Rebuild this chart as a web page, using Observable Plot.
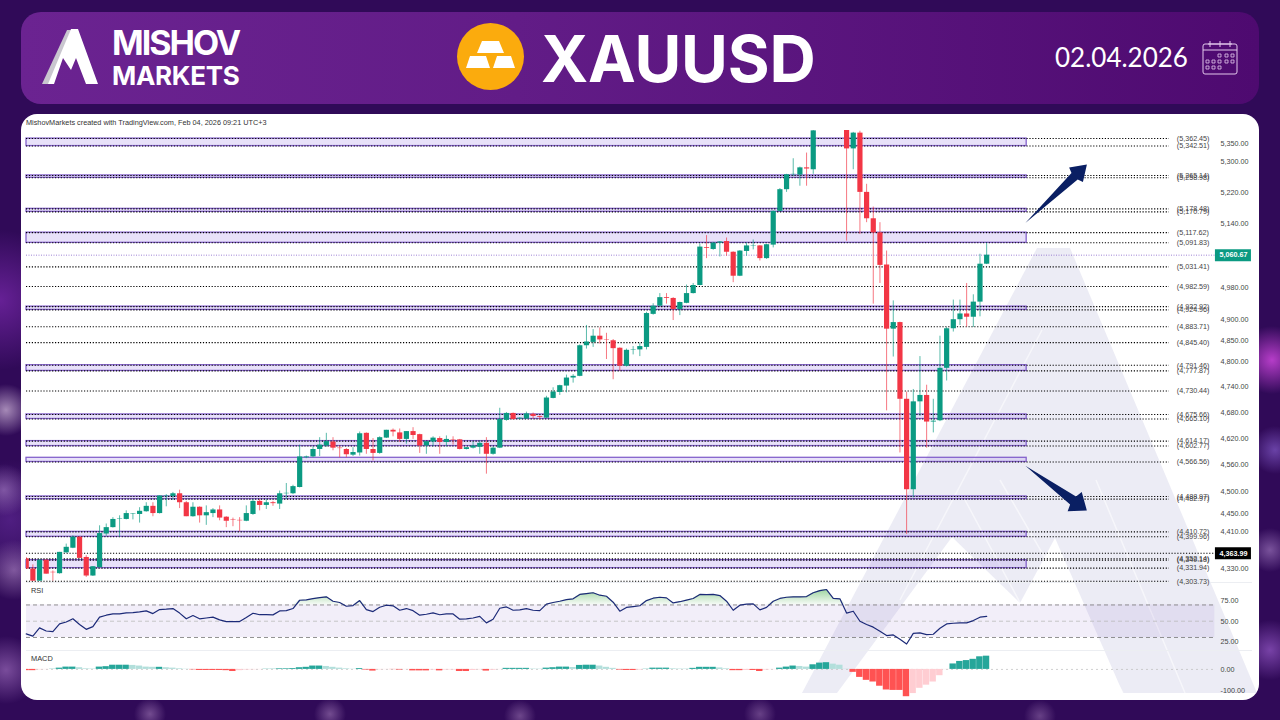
<!DOCTYPE html>
<html lang="en">
<head>
<meta charset="utf-8">
<title>XAUUSD</title>
<script src="https://cdn.jsdelivr.net/npm/d3@7"></script>
<script src="https://cdn.jsdelivr.net/npm/@observablehq/plot@0.6"></script>
<style>
html,body{margin:0;padding:0;width:1280px;height:720px;overflow:hidden}
body{position:relative;background-color:#300a58;
background-image:
radial-gradient(circle 26px at 6px 410px,rgba(205,180,215,.75),transparent),
radial-gradient(circle 26px at 4px 490px,rgba(170,130,200,.6),transparent),
radial-gradient(circle 30px at 14px 570px,rgba(190,150,210,.55),transparent),
radial-gradient(circle 34px at 6px 670px,rgba(170,120,200,.6),transparent),
radial-gradient(circle 70px at 0px 300px,rgba(120,40,170,.75),transparent),
radial-gradient(circle 60px at 10px 520px,rgba(110,50,170,.5),transparent),
radial-gradient(circle 34px at 1272px 360px,rgba(205,70,220,.85),transparent),
radial-gradient(circle 24px at 1275px 450px,rgba(130,90,200,.7),transparent),
radial-gradient(circle 22px at 1270px 550px,rgba(170,130,200,.6),transparent),
radial-gradient(circle 30px at 1270px 650px,rgba(150,90,200,.7),transparent),
radial-gradient(circle 16px at 150px 714px,rgba(170,130,190,.55),transparent),
radial-gradient(circle 16px at 330px 714px,rgba(170,130,190,.55),transparent),
radial-gradient(circle 16px at 520px 716px,rgba(170,130,190,.5),transparent),
radial-gradient(circle 16px at 760px 714px,rgba(170,130,190,.45),transparent),
radial-gradient(circle 16px at 1040px 716px,rgba(170,130,190,.45),transparent)}
.abs{position:absolute}
#head{left:21px;top:12px;width:1238px;height:92px;border-radius:20px;background:linear-gradient(90deg,#6b2391 0%,#621c87 40%,#4e0a70 100%)}
#card{left:21px;top:114px;width:1238px;height:586px;border-radius:16px;background:#fff}
.w{color:#fff;white-space:nowrap;line-height:1}
.pane{font:7.4px "Liberation Sans",sans-serif;color:#333;white-space:nowrap;line-height:1}
.sep{height:1px;background:#eceef2;left:26px;width:1226px}
</style>
</head>
<body>
<div id="head" class="abs"></div>
<svg class="abs" style="left:38px;top:24px" width="66" height="64" viewBox="38 24 66 64">
  <polygon points="42,84 67,30 71,30 50,84" fill="#c9c6cf"/>
  <polygon points="48,84 71,29 78,29 98,84 86,84 76,58 71,70 63,58 54,84" fill="#fff"/>
</svg>
<div class="abs w" style="left:112px;top:22px;font:700 34px Inter,sans-serif;letter-spacing:-2px">MISHOV</div>
<div class="abs w" style="left:112px;top:60px;font:700 26px Inter,sans-serif;letter-spacing:-.3px">MARKETS</div>
<svg class="abs" style="left:455px;top:21px" width="72" height="72" viewBox="455 21 72 72">
  <circle cx="490.5" cy="56.5" r="33.5" fill="#fbab0d"/>
  <polygon points="482,41 499,41 504,53 477,53" fill="#fff"/>
  <polygon points="470,56 486,56 490,68 466,68" fill="#fff"/>
  <polygon points="497,56 511,56 515,68 493,68" fill="#fff"/>
</svg>
<div class="abs w" style="left:541px;top:20px;font:700 64px Inter,sans-serif;letter-spacing:-.2px">XAUUSD</div>
<div class="abs w" style="left:1055px;top:41px;font:400 26px Lato,sans-serif">02.04.2026</div>
<svg class="abs" style="left:1200px;top:38px" width="40" height="40" viewBox="1200 38 40 40" fill="none" stroke="#e3c8ec" stroke-width="1">
  <rect x="1203" y="44" width="34" height="30" rx="2"/>
  <path d="M1203 50H1237M1208 44H1232"/>
  <path d="M1210 41V47M1220 41V47M1230 41V47"/>
  <path d="M1218 54h3v3h-3zM1225 54h3v3h-3zM1231 54h3v3h-3zM1206 60h3v3h-3zM1212 60h3v3h-3zM1218 60h3v3h-3zM1225 60h3v3h-3zM1231 60h3v3h-3zM1206 66h3v3h-3zM1212 66h3v3h-3zM1218 66h3v3h-3z" stroke-width=".8"/>
</svg>
<div id="card" class="abs"></div>
<svg class="abs" style="left:0;top:0" width="1280" height="720" viewBox="0 0 1280 720">
  <polygon points="802,693 1037,248 1070,248 1257,693 1123,693 1055,538 1020,603 952,537 837,693" fill="rgb(105,105,175)" fill-opacity=".125"/>
  <path d="M1000,480 L1123,693 M1042,330 L900,600 M965,500 L1040,640 M1096,480 L1185,693" stroke="#fff" stroke-opacity=".55" stroke-width="1.5" fill="none"/>
</svg>
<div class="abs pane" style="left:26px;top:119px;font-size:7.3px">MishovMarkets created with TradingView.com, Feb 04, 2026 09:21 UTC+3</div>
<div class="abs sep" style="top:582px"></div>
<div class="abs sep" style="top:650px"></div>
<div class="abs pane" style="left:31px;top:587px">RSI</div>
<div class="abs pane" style="left:31px;top:655px">MACD</div>
<script>
const opens=[4352,4330,4304,4349,4323,4320,4365,4375,4399,4355,
4315,4333,4406,4420,4438,4438,4450,4449,4455,4467,
4451,4489,4489,4495,4475,4444,4465,4446,4451,4459,
4443,4437,4436,4434,4449,4478,4469,4475,4472,4495,
4495,4509,4576,4578,4595,4603,4612,4598,4595,4582,
4587,4632,4595,4586,4621,4639,4633,4618,4636,4629,
4603,4612,4620,4611,4617,4617,4595,4598,4600,4609,
4584,4598,4662,4678,4665,4665,4676,4671,4667,4713,
4727,4742,4761,4765,4838,4846,4861,4852,4850,4832,
4789,4827,4828,4834,4914,4934,4955,4953,4926,4941,
4965,4985,5080,5075,5091,5095,5068,5008,5070,5084,
5084,5052,5086,5172,5228,5267,5266,5285,5280,5390,
5470,5540,5500,5420,5335,5377,5221,5153,5117,5036,
4878,4894,4711,4504,4705,4720,4658,4661,4784,4879,
4901,4915,4907,4944,5038];
const highs=[4355,4339,4350,4350,4326,4366,4384,4402,4400,4359,
4335,4424,4428,4442,4446,4457,4451,4464,4475,4475,
4490,4493,4498,4503,4478,4475,4466,4468,4462,4468,
4444,4441,4442,4468,4482,4482,4482,4478,4501,4518,
4514,4605,4580,4601,4622,4632,4622,4603,4597,4599,
4635,4633,4620,4624,4639,4642,4642,4636,4645,4630,
4607,4624,4624,4626,4624,4618,4599,4612,4614,4622,
4601,4690,4680,4679,4668,4681,4679,4672,4718,4738,
4744,4768,4769,4840,4887,4877,4881,4868,4853,4833,
4830,4836,4844,4919,4940,4965,4965,4955,4944,4986,
4990,5089,5110,5093,5095,5104,5069,5072,5091,5099,
5085,5088,5173,5231,5268,5309,5287,5324,5390,5480,
5560,5600,5520,5430,5379,5382,5242,5183,5143,5071,
4947,4895,4728,4734,4812,4744,4711,4861,4882,4949,
4949,4990,4962,5063,5091];
const lows=[4330,4304,4304,4319,4304,4319,4364,4374,4353,4312,
4314,4332,4401,4419,4399,4437,4437,4430,4454,4444,
4450,4466,4480,4462,4444,4443,4430,4425,4442,4435,
4420,4422,4411,4433,4447,4457,4460,4467,4460,4482,
4493,4508,4574,4576,4579,4600,4592,4576,4576,4579,
4580,4584,4569,4584,4620,4624,4611,4607,4618,4586,
4584,4601,4584,4601,4605,4594,4594,4596,4584,4539,
4582,4597,4660,4662,4664,4664,4665,4663,4666,4712,
4720,4726,4749,4764,4830,4834,4842,4805,4757,4777,
4787,4816,4812,4828,4912,4933,4939,4899,4911,4940,
4964,4984,5052,5073,5056,5058,4992,5007,5058,5074,
5046,5050,5079,5170,5221,5262,5237,5237,5268,5385,
5440,5480,5390,5096,5280,5113,5143,4939,4990,4684,
4811,4587,4405,4486,4671,4598,4633,4659,4754,4871,
4887,4883,4882,4908,5037];
const closes=[4330,4304,4349,4319,4322,4366,4377,4399,4353,4315,
4335,4407,4420,4438,4439,4451,4451,4456,4467,4451,
4490,4490,4495,4475,4444,4465,4446,4453,4459,4441,
4434,4436,4435,4451,4478,4469,4475,4473,4495,4496,
4511,4578,4578,4595,4605,4613,4598,4597,4583,4588,
4631,4595,4586,4622,4639,4635,4618,4636,4627,4603,
4613,4621,4611,4618,4616,4595,4599,4603,4609,4584,
4598,4664,4678,4664,4667,4677,4671,4669,4714,4728,
4743,4761,4765,4838,4847,4861,4852,4851,4831,4789,
4827,4828,4836,4916,4934,4955,4953,4926,4943,4965,
4985,5081,5078,5091,5094,5068,5008,5071,5084,5085,
5052,5087,5172,5228,5267,5268,5285,5282,5383,5470,
5540,5500,5420,5335,5377,5221,5153,5117,5035,4878,
4894,4711,4504,4705,4720,4658,4660,4784,4879,4901,
4915,4907,4944,5038,5060.67];
const rsiValues=[34.4,31.6,41.8,38,37.3,46.7,49,53,46,40,
43.4,55,57.4,59,59,60.2,60.5,61.5,62.7,59.4,
64.3,64.8,65.6,60,53,57,53,54,55,51.6,
49.6,49.6,49.6,54.5,59.8,58,58,57.8,62.7,63,
65.6,75.8,76.2,77.9,79,80,74.6,73,68.4,69.3,
75.4,64.3,61.9,67.2,69.7,68.9,63.5,65.6,63,57.4,
58.6,60.2,58,59,59,52.5,52.9,54,56,48,
52.5,66,67.6,63.5,64,65.6,63.5,63,71,73,
74.6,76.6,77.5,83,84,85,82,80.7,73.4,62.3,
67,68,69,75.4,78.3,79.5,78.7,72.5,74,76,
78,83,82.8,83,81.6,74.6,63.5,69.7,71,71.3,
64,67,74.6,78,79.5,80,80,80.3,85,87.7,
89,78,77.5,60,62.3,50,46,42.7,37.7,32.4,
33.2,27.9,22,35,35.7,33.6,34,41.4,46.7,47.5,
48,48,50.8,55,56];
const macdValues=[-6,-6,-2,-1,1,6,11,11,8,3,
2,11,13,20,20,20,19,16,11,10,
10,8,6,3,1,-2,-5,-5,-5,-5,
-6,-10,-6,-3,-2,-1,1,1,3,3,
4,8,10,16,16,14,10,6,3,1,
4,-3,-8,-2,-1,-1,-3,-1,-7,-7,
-7,-3,-7,-3,-2.8,-10,-10,-5,-2,-8,
-4,-1,5,5,5,5,2,1.5,6,8,
11,11,9,19,20,20,16,10,5,-3,
-5,-5,-3,1,6,6,6,3,2,1.8,
5,10,10,10,7,3,-6,-6,-5,-5,
-10,-3,-1,6,11,16,14,11,22,30,
32,25,20,1,-14,-38,-52,-60,-80,-98,
-100,-100,-130,-115,-90,-75,-60,-30,-1,26,
38,42,48,60,63];
const levelValues=[5362.45,5342.51,5265.14,5258.98,5178.48,5170.79,5117.62,5091.83,5031.41,4982.59,4932.92,4924.96,4883.71,4845.40,4791.46,4777.87,4730.44,4675.66,4665.10,4614.17,4602.77,4566.56,4488.97,4482.97,4410.72,4399.96,4352.14,4349.18,4331.94,4303.73];
const bandTops=[5362.45,5265.14,5178.48,5117.62,4932.92,4791.46,4675.66,4614.17,4576,4488.97,4410.72,4349.18];
const bandBottoms=[5342.51,5258.98,5170.79,5091.83,4924.96,4777.87,4665.10,4602.77,4566.56,4482.97,4399.96,4331.94];
const priceTicks=[5350,5300,5220,5140,4980,4900,4850,4800,4740,4680,4620,4560,4500,4450,4410,4370,4330];
const lastPrice=5060.67, prevPrice=4363.99;
const rsiTicks=[75,50,25], rsiGuides=[70,50,30];
const macdTicks=[0,-100];

const GREEN="#0b9a82",RED="#f23645",PURPLE="#8562cc";
const xDomain=[0.045,179.06];
const LEFT=26,RIGHT=60,W=1280;
const RIGHT_BAND=150,RIGHT_DOT=171.4,RIGHT_LABEL=172.5,RIGHT_GUIDE=178.2,BOX_A=178.3,BOX_B=183.7,BOX_T=181;
const fmt=d3.format(",.2f");
const font={fontFamily:"'Liberation Sans',sans-serif",fontSize:"7.2px",background:"transparent",color:"#444",position:"absolute",left:"0px",overflow:"visible",maxWidth:"none"};
const candles=opens.map((o,i)=>({i,o,h:highs[i],l:lows[i],c:closes[i],up:closes[i]>=o}));
const bands=bandTops.map((t,i)=>({t,b:bandBottoms[i]}));
const rows=rsiValues.map((v,i)=>({i,v}));
const hist=macdValues.map((v,i)=>{const p=i?macdValues[i-1]:v;
  const strong=v>=0?v>=p:v<=p;
  return {i,v,fill:v>=0?(strong?"#26a69a":"#b2dfdb"):(strong?"#ff5252":"#ffcdd2")};});
const arrow=(hw,sw,hl)=>({draw(ctx,l){ctx.moveTo(0,0);ctx.lineTo(sw,-(l-hl));ctx.lineTo(hw,-(l-hl)-2);ctx.lineTo(0,-l);ctx.lineTo(-hw,-(l-hl)-2);ctx.lineTo(-sw,-(l-hl));ctx.closePath();}});

const price=Plot.plot({width:W,height:453,marginTop:0,marginBottom:0,marginLeft:LEFT,marginRight:RIGHT,style:{...font,top:"130px"},
  x:{domain:xDomain,axis:null},
  y:{type:"log",domain:[4299,5384],axis:null},
  marks:[
    Plot.rect(bands,{x1:()=>xDomain[0],x2:()=>RIGHT_BAND,y1:"t",y2:"b",fill:"#b9a5ee",fillOpacity:.33,stroke:PURPLE,strokeWidth:1.3}),
    Plot.ruleY(levelValues,{x1:()=>xDomain[0],x2:()=>RIGHT_DOT,stroke:"#000",strokeWidth:1.1,strokeDasharray:"1.2 1.7"}),
    Plot.ruleY([prevPrice],{x1:()=>xDomain[0],x2:()=>BOX_A,stroke:"#000",strokeWidth:1.1,strokeDasharray:"1.2 1.7"}),
    Plot.ruleY([lastPrice],{x1:()=>xDomain[0],x2:()=>BOX_A,stroke:PURPLE,strokeWidth:.8,strokeDasharray:"1 1.5"}),
    Plot.ruleX(candles,{x:"i",y1:"l",y2:"h",stroke:d=>d.up?GREEN:RED,strokeWidth:.9,strokeOpacity:.75,clip:true}),
    Plot.ruleX(candles,{x:"i",y1:"o",y2:"c",stroke:d=>d.up?GREEN:RED,strokeWidth:5.2,clip:true}),
    Plot.text(levelValues,{x:()=>RIGHT_LABEL,y:d=>d,text:d=>`(${fmt(d)})`,textAnchor:"start",fill:"#444"}),
    Plot.axisY({anchor:"right",ticks:priceTicks,tickSize:0,tickPadding:0,tickFormat:fmt,textAnchor:"start",fill:"#444",label:null}),
    Plot.ruleY([lastPrice],{x1:()=>BOX_A,x2:()=>BOX_B,stroke:GREEN,strokeWidth:12}),
    Plot.ruleY([prevPrice],{x1:()=>BOX_A,x2:()=>BOX_B,stroke:"#000",strokeWidth:12}),
    Plot.text([lastPrice],{x:()=>BOX_T,y:d=>d,text:d=>fmt(d),fill:"#fff",fontWeight:700}),
    Plot.text([prevPrice],{x:()=>BOX_T,y:d=>d,text:d=>fmt(d),fill:"#fff",fontWeight:700}),
    Plot.vector([{i:149.8,p:5142}],{x:"i",y:"p",rotate:46.4,length:85,anchor:"start",shape:arrow(10,4.5,17),fill:"#0a1f63",stroke:"none"}),
    Plot.vector([{i:149.8,p:4558}],{x:"i",y:"p",rotate:126,length:76,anchor:"start",shape:arrow(12,5,17),fill:"#0a1f63",stroke:"none"})
  ]});
document.body.appendChild(price);

const gradient=()=>{const s=d3.create("svg:defs");
  const g=s.append("linearGradient").attr("id","rsiGreen").attr("x1",0).attr("x2",0).attr("y1",0).attr("y2",1);
  g.append("stop").attr("offset",0).attr("stop-color","#4caf50").attr("stop-opacity",.55);
  g.append("stop").attr("offset",1).attr("stop-color","#4caf50").attr("stop-opacity",.05);
  return s.node();};
const rsi=Plot.plot({width:W,height:67,marginTop:0,marginBottom:0,marginLeft:LEFT,marginRight:RIGHT,style:{...font,top:"583px"},
  x:{domain:xDomain,axis:null},
  y:{domain:[14,96.4],axis:null},
  marks:[
    gradient,
    Plot.rect([{a:30,b:70}],{x1:()=>xDomain[0],x2:()=>RIGHT_GUIDE,y1:"a",y2:"b",fill:"#7b5cc6",fillOpacity:.1}),
    Plot.ruleY(rsiGuides,{x1:()=>xDomain[0],x2:()=>RIGHT_GUIDE,stroke:d=>d===50?"#bbb":"#777",strokeWidth:.8,strokeDasharray:"4 3"}),
    Plot.areaY(rows,{x:"i",y1:()=>70,y2:d=>Math.max(d.v,70),fill:"url(#rsiGreen)"}),
    Plot.line(rows,{x:"i",y:"v",stroke:"#1c2a78",strokeWidth:1.2}),
    Plot.axisY({anchor:"right",ticks:rsiTicks,tickSize:0,tickPadding:0,tickFormat:d=>d.toFixed(2),textAnchor:"start",fill:"#444",label:null})
  ]});
document.body.appendChild(rsi);

const macd=Plot.plot({width:W,height:50,marginTop:0,marginBottom:0,marginLeft:LEFT,marginRight:RIGHT,style:{...font,top:"650px"},
  x:{domain:xDomain,axis:null},
  y:{domain:[-148,90],axis:null},
  marks:[
    Plot.ruleY(macdTicks.slice(0,1),{x1:()=>xDomain[0],x2:()=>RIGHT_GUIDE,stroke:"#bbb",strokeWidth:.7,strokeDasharray:"2 3"}),
    Plot.rectY(hist,{x1:d=>d.i-.5,x2:d=>d.i+.46,y1:()=>0,y2:"v",fill:"fill",clip:true}),
    Plot.axisY({anchor:"right",ticks:macdTicks,tickSize:0,tickPadding:0,tickFormat:d=>d.toFixed(2),textAnchor:"start",fill:"#444",label:null})
  ]});
document.body.appendChild(macd);
</script>
</body>
</html>
